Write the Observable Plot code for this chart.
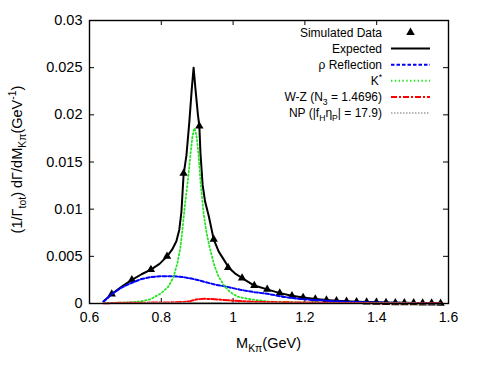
<!DOCTYPE html>
<html>
<head>
<meta charset="utf-8">
<script src="https://cdn.jsdelivr.net/npm/d3@7"></script>
<script src="https://cdn.jsdelivr.net/npm/@observablehq/plot@0.6"></script>
<style>
  html, body { margin: 0; padding: 0; background: #fff; }
  svg { font-family: "Liberation Sans", Arial, sans-serif; }
</style>
</head>
<body>
<div id="chart"></div>
<script>
// ---- data ----
const dataX = [0.662,0.718,0.771,0.816,0.862,0.906,0.946,0.986,1.025,1.059,1.095,1.130,1.164,1.195,1.229,1.260,1.288,1.316,1.344,1.372,1.399,1.426,1.452,1.477,1.503,1.528,1.553,1.578];
const dataY = [0.0010,0.0025,0.0036,0.0050,0.0138,0.0188,0.0068,0.0038,0.0027,0.0019,0.0015,0.0011,0.00082,0.00064,0.00047,0.00036,0.00029,0.00023,0.00019,0.00015,0.00012,0.0001,0.00008,0.00007,0.00006,0.00005,0.00004,0.00003];

const expX = [0.639,0.662,0.690,0.718,0.745,0.771,0.795,0.816,0.830,0.842,0.850,0.856,0.862,0.870,0.878,0.885,0.890,0.895,0.902,0.906,0.909,0.915,0.922,0.932,0.946,0.960,0.975,0.988,1.005,1.025,1.059,1.095,1.130,1.164,1.195,1.229,1.260,1.288,1.316,1.344,1.372,1.399,1.426,1.452,1.477,1.503,1.528,1.553,1.578];
const expY = [0.0002,0.0010,0.0018,0.0025,0.0031,0.0036,0.0042,0.0050,0.0057,0.0066,0.0078,0.0097,0.0136,0.0157,0.0192,0.0228,0.0250,0.0228,0.0200,0.0188,0.0160,0.0126,0.0108,0.0093,0.0068,0.0055,0.0046,0.0038,0.0032,0.0027,0.0019,0.0015,0.0011,0.00082,0.00064,0.00047,0.00036,0.00029,0.00023,0.00019,0.00015,0.00012,0.0001,0.00008,0.00007,0.00006,0.00005,0.00004,0.00003];

const rhoX = [0.639,0.662,0.690,0.718,0.745,0.771,0.800,0.830,0.860,0.890,0.920,0.950,0.980,1.020,1.060,1.100,1.140,1.180,1.220,1.270,1.320,1.400,1.500,1.578];
const rhoY = [0.0002,0.0010,0.0017,0.0022,0.0026,0.0028,0.0029,0.0029,0.0028,0.0026,0.0023,0.0020,0.0018,0.00145,0.0012,0.0010,0.0007,0.0005,0.00038,0.00027,0.00018,0.0001,0.00005,0.00003];

const kstX = [0.639,0.700,0.740,0.770,0.800,0.820,0.834,0.845,0.853,0.858,0.866,0.874,0.881,0.887,0.8925,0.898,0.904,0.909,0.918,0.926,0.935,0.948,0.960,0.975,0.988,1.000,1.015,1.048,1.100,1.200,1.300,1.578];
const kstY = [0.00005,0.0001,0.0002,0.00045,0.0011,0.0018,0.0028,0.0043,0.0059,0.0075,0.0105,0.0130,0.0157,0.0178,0.0186,0.0178,0.0157,0.0130,0.0095,0.0075,0.0059,0.0040,0.0028,0.0019,0.00135,0.0010,0.0007,0.00045,0.0002,0.0001,0.00005,0.00001];

const wzX = [0.639,0.700,0.800,0.860,0.880,0.900,0.920,0.950,1.000,1.050,1.100,1.200,1.300,1.578];
const wzY = [0.00002,0.00008,0.0001,0.00015,0.00025,0.00045,0.0005,0.00045,0.0003,0.0002,0.00015,0.0001,0.00005,0.00002];

const npX = [0.639,0.800,0.900,1.000,1.200,1.578];
const npY = [0.00002,0.00005,0.00008,0.00006,0.00003,0.00001];

const xTicks = [0.6,0.8,1.0,1.2,1.4,1.6];
const xTickLabels = ["0.6","0.8","1","1.2","1.4","1.6"];
const yTicks = [0,0.005,0.01,0.015,0.02,0.025,0.03];
const yTickLabels = ["0","0.005","0.01","0.015","0.02","0.025","0.03"];

const seriesNames = ["Simulated Data","Expected","ρ Reflection","K*","W-Z (N3 = 1.4696)","NP (|fHηP| = 17.9)"];
const seriesColors = ["#000000","#000000","#0000ff","#22e622","#ff0000","#a0a0a0"];

// ---- build ----
const zip = (xs, ys) => xs.map((x, i) => ({x, y: ys[i]}));
const W = 482, H = 371;
const mL = 89, mR = 34, mT = 20, mB = 68;
const frameH = H - mT - mB, frameW = W - mL - mR;
const tk = 5;
const dashes = [null, null, "3.5,2", "1.4,2.4", "6,2,2,2", "1.5,1.5"];

const plot = Plot.plot({
  width: W, height: H,
  marginLeft: mL, marginRight: mR, marginTop: mT, marginBottom: mB,
  style: {fontFamily: '"Liberation Sans", Arial, sans-serif', background: "white"},
  x: {domain: [0.6, 1.6]},
  y: {domain: [0, 0.03]},
  marks: [
    Plot.axisX(xTicks, {tickSize: 0, tickPadding: 9, fontSize: 14, fill: "#000", tickFormat: (d) => xTickLabels[xTicks.indexOf(d)], label: null}),
    Plot.axisY(yTicks, {tickSize: 0, tickPadding: 7, fontSize: 14.5, fill: "#000", tickFormat: (d) => yTickLabels[yTicks.indexOf(d)], label: null}),
    // inward ticks on all four sides
    Plot.ruleX(xTicks, {x: d => d, insetTop: frameH - tk, stroke: "#000"}),
    Plot.ruleX(xTicks, {x: d => d, insetBottom: frameH - tk, stroke: "#000"}),
    Plot.ruleY(yTicks, {y: d => d, insetRight: frameW - tk, stroke: "#000"}),
    Plot.ruleY(yTicks, {y: d => d, insetLeft: frameW - tk, stroke: "#000"}),
    Plot.line(zip(expX, expY), {x: "x", y: "y", stroke: seriesColors[1], strokeWidth: 2}),
    Plot.dot(zip(dataX, dataY), {x: "x", y: "y", symbol: "triangle", r: 3.1, fill: seriesColors[0], stroke: "none"}),
    Plot.line(zip(rhoX, rhoY), {x: "x", y: "y", stroke: seriesColors[2], strokeWidth: 2, strokeDasharray: dashes[2]}),
    Plot.line(zip(kstX, kstY), {x: "x", y: "y", stroke: seriesColors[3], strokeWidth: 1.8, strokeDasharray: dashes[3]}),
    Plot.line(zip(wzX, wzY), {x: "x", y: "y", stroke: seriesColors[4], strokeWidth: 2, strokeDasharray: dashes[4]}),
    Plot.line(zip(npX, npY), {x: "x", y: "y", stroke: seriesColors[5], strokeWidth: 1.5, strokeDasharray: dashes[5]}),
    Plot.frame({stroke: "#000", strokeWidth: 1.4})
  ]
});

const svg = d3.select(plot);
const font = '"Liberation Sans", Arial, sans-serif';

// helper to write rich text (sub/superscripts) into a text element
function rich(textSel, parts, baseSize) {
  parts.forEach(([t, kind]) => {
    const ts = textSel.append("tspan").text(t);
    if (kind === "sub") ts.attr("font-size", baseSize * 0.72).attr("dy", baseSize * 0.3);
    else if (kind === "sup") ts.attr("font-size", baseSize * 0.72).attr("dy", -baseSize * 0.4);
    else if (kind === "back-sub") ts.attr("dy", -baseSize * 0.3);
    else if (kind === "back-sup") ts.attr("dy", baseSize * 0.4);
  });
}

// x-axis label
const xl = svg.append("text").attr("x", mL + frameW / 2).attr("y", 348)
  .attr("text-anchor", "middle").attr("font-family", font).attr("font-size", 14.5).attr("fill", "#000");
rich(xl, [["M"], ["Kπ", "sub"], ["(GeV)", "back-sub"]], 14.5);

// y-axis label
const yl = svg.append("text").attr("transform", `translate(22,${mT + frameH / 2 - 2}) rotate(-90)`)
  .attr("text-anchor", "middle").attr("font-family", font).attr("font-size", 14.5).attr("fill", "#000");
rich(yl, [["(1/Γ"], ["tot", "sub"], [") dΓ/dM", "back-sub"], ["Kπ", "sub"], ["(GeV", "back-sub"], ["-1", "sup"], [")", "back-sup"]], 14.5);

// legend
const legendParts = [
  [[seriesNames[0]]],
  [[seriesNames[1]]],
  [[seriesNames[2]]],
  [["K"], ["*", "sup"]],
  [["W-Z (N"], ["3", "sub"], [" = 1.4696)", "back-sub"]],
  [["NP (|f"], ["H", "sub"], ["η", "back-sub"], ["P", "sub"], ["| = 17.9)", "back-sub"]]
];
const lg = svg.append("g").attr("font-family", font).attr("font-size", 12).attr("fill", "#000");
const rowY0 = 32.5, rowH = 16.1, textX = 382, lx1 = 391, lx2 = 430;
legendParts.forEach((parts, i) => {
  const cy = rowY0 + i * rowH;
  const t = lg.append("text").attr("x", textX).attr("y", cy + 4.3).attr("text-anchor", "end");
  rich(t, parts, 12);
  if (i === 0) {
    lg.append("path").attr("d", d3.symbol(d3.symbolTriangle, 32)()).attr("transform", `translate(${(lx1 + lx2) / 2},${cy})`).attr("fill", "#000");
  } else {
    lg.append("line").attr("x1", lx1).attr("x2", lx2).attr("y1", cy).attr("y2", cy)
      .attr("stroke", seriesColors[i]).attr("stroke-width", i === 5 ? 1.5 : 2)
      .attr("stroke-dasharray", dashes[i]);
  }
});

document.getElementById("chart").appendChild(plot);
</script>
</body>
</html>
